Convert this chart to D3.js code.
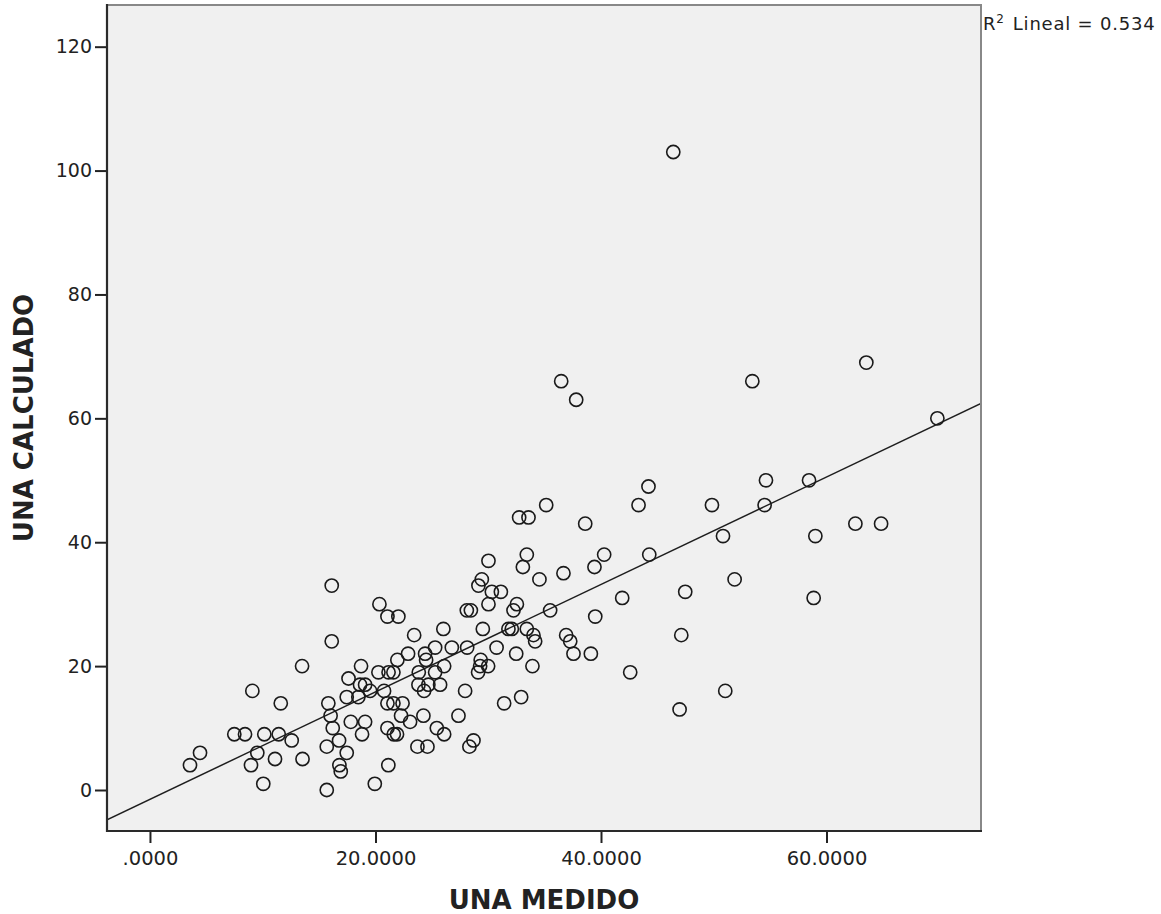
<!DOCTYPE html>
<html>
<head>
<meta charset="utf-8">
<script src="https://cdn.jsdelivr.net/npm/d3@7"></script>
<style>
  html, body { margin: 0; padding: 0; background: #ffffff; }
  svg { display: block; }
  text { font-family: "DejaVu Sans", sans-serif; fill: #222; }
</style>
</head>
<body>
<svg id="chart" width="1161" height="914"></svg>
<script>
// ---- data ----
const unaMedido = [
  3.55, 4.44, 7.48, 8.43, 9.08, 8.96, 9.52, 10.05, 10.14, 11.09, 11.42, 11.60, 12.57, 13.53, 13.49,
  15.68, 15.68, 15.82, 16.02, 16.12, 16.12, 16.21, 16.77, 16.80, 16.92, 17.45, 17.45, 17.61, 17.81,
  18.48, 18.63, 18.72, 18.81, 19.08, 19.08, 19.52, 19.94, 20.26, 20.35, 20.76, 21.06, 21.06, 21.06,
  21.14, 21.16, 21.59, 21.59, 21.62, 21.91, 22.03, 21.94, 22.27, 22.40, 22.89, 23.07, 23.43, 23.72,
  23.84, 23.81, 24.25, 24.31, 24.40, 24.49, 24.61, 24.69, 25.29, 25.29, 25.44, 25.73, 26.02, 26.09,
  26.09, 26.77, 27.36, 27.95, 28.10, 28.13, 28.46, 28.33, 28.69, 29.10, 29.13, 29.28, 29.33, 29.43,
  29.52, 29.99, 30.02, 30.02, 30.32, 30.74, 31.12, 31.41, 31.79, 32.09, 32.24, 32.48, 32.54, 32.74,
  32.92, 33.07, 33.42, 33.42, 33.57, 33.92, 34.01, 34.16, 34.54, 35.14, 35.49, 36.67, 36.47, 36.91,
  37.27, 37.56, 37.80, 38.60, 39.10, 39.42, 39.49, 40.28, 41.88, 42.59, 43.33, 44.21, 44.28, 46.41,
  46.97, 47.12, 47.47, 49.84, 50.82, 51.02, 51.85, 53.42, 54.51, 54.63, 58.45, 58.86, 59.01, 62.56,
  63.53, 64.84, 69.83
];
const unaCalculado = [
  4, 6, 9, 9, 16, 4, 6, 1, 9, 5, 9, 14, 8, 5, 20,
  0, 7, 14, 12, 24, 33, 10, 8, 4, 3, 6, 15, 18, 11,
  15, 17, 20, 9, 11, 17, 16, 1, 19, 30, 16, 28, 14, 10,
  4, 19, 19, 14, 9, 9, 28, 21, 12, 14, 22, 11, 25, 7,
  19, 17, 12, 16, 22, 21, 7, 17, 23, 19, 10, 17, 26, 20,
  9, 23, 12, 16, 29, 23, 29, 7, 8, 19, 33, 20, 21, 34,
  26, 20, 30, 37, 32, 23, 32, 14, 26, 26, 29, 22, 30, 44,
  15, 36, 38, 26, 44, 20, 25, 24, 34, 46, 29, 35, 66, 25,
  24, 22, 63, 43, 22, 36, 28, 38, 31, 19, 46, 49, 38, 103,
  13, 25, 32, 46, 41, 16, 34, 66, 46, 50, 50, 31, 41, 43,
  69, 43, 60
];
const xTickValues = [0, 20, 40, 60];
const xTickLabels = [".0000", "20.0000", "40.0000", "60.0000"];
const yTickValues = [0, 20, 40, 60, 80, 100, 120];
const fitIntercept = -1.5;
const fitSlope = 0.867;
const rSquaredLabel = "0.534";
const xTitle = "UNA MEDIDO";
const yTitle = "UNA CALCULADO";

// ---- layout ----
const plot = { left: 107, right: 981, top: 5, bottom: 831 };
const svg = d3.select("#chart");

const x = d3.scaleLinear().domain([-3.81, 73.70]).range([plot.left, plot.right]);
const y = d3.scaleLinear().domain([-6.62, 126.73]).range([plot.bottom, plot.top]);

// plot background
svg.append("rect")
  .attr("x", plot.left).attr("y", plot.top)
  .attr("width", plot.right - plot.left).attr("height", plot.bottom - plot.top)
  .attr("fill", "#f0f0f0");

// clip
svg.append("clipPath").attr("id", "clip")
  .append("rect")
  .attr("x", plot.left).attr("y", plot.top)
  .attr("width", plot.right - plot.left).attr("height", plot.bottom - plot.top);

// fit line
const xd = x.domain();
svg.append("line")
  .attr("clip-path", "url(#clip)")
  .attr("x1", x(xd[0])).attr("y1", y(fitIntercept + fitSlope * xd[0]))
  .attr("x2", x(xd[1])).attr("y2", y(fitIntercept + fitSlope * xd[1]))
  .attr("stroke", "#1e1e1e").attr("stroke-width", 1.5);

// points
const pts = unaMedido.map((v, i) => ({ x: v, y: unaCalculado[i] }));
svg.append("g").attr("clip-path", "url(#clip)")
  .selectAll("circle").data(pts).join("circle")
  .attr("cx", d => x(d.x)).attr("cy", d => y(d.y))
  .attr("r", 6.6)
  .attr("fill", "none")
  .attr("stroke", "#1a1a1a")
  .attr("stroke-width", 1.6);

// frame: top & right grey, left & bottom dark
svg.append("line").attr("x1", plot.left).attr("x2", plot.right + 1)
  .attr("y1", plot.top).attr("y2", plot.top)
  .attr("stroke", "#888").attr("stroke-width", 2);
svg.append("line").attr("x1", plot.right).attr("x2", plot.right)
  .attr("y1", plot.top).attr("y2", plot.bottom)
  .attr("stroke", "#888").attr("stroke-width", 2);

// axes
const xAxis = d3.axisBottom(x).tickValues(xTickValues)
  .tickFormat((d, i) => xTickLabels[i]).tickSize(12).tickPadding(8);
const gx = svg.append("g").attr("transform", `translate(0,${plot.bottom})`).call(xAxis);
gx.select(".domain").remove();
gx.selectAll(".tick line").attr("stroke", "#222").attr("stroke-width", 2);
gx.selectAll(".tick text").attr("font-size", 19.5).attr("font-family", "DejaVu Sans").attr("fill", "#222");

const yAxis = d3.axisLeft(y).tickValues(yTickValues).tickSize(12).tickPadding(3);
const gy = svg.append("g").attr("transform", `translate(${plot.left},0)`).call(yAxis);
gy.select(".domain").remove();
gy.selectAll(".tick line").attr("stroke", "#222").attr("stroke-width", 2);
gy.selectAll(".tick text").attr("font-size", 19).attr("font-family", "DejaVu Sans").attr("fill", "#222");

svg.append("line").attr("x1", plot.left).attr("x2", plot.left)
  .attr("y1", plot.top - 1).attr("y2", plot.bottom + 1)
  .attr("stroke", "#2a2a2a").attr("stroke-width", 2.2);
svg.append("line").attr("x1", plot.left - 1).attr("x2", plot.right + 1)
  .attr("y1", plot.bottom).attr("y2", plot.bottom)
  .attr("stroke", "#2a2a2a").attr("stroke-width", 2.2);

// titles
svg.append("text")
  .attr("x", (plot.left + plot.right) / 2).attr("y", 909)
  .attr("text-anchor", "middle")
  .attr("font-size", 26).attr("font-weight", "bold")
  .attr("fill", "#1a1a1a")
  .text(xTitle);

svg.append("text")
  .attr("transform", `translate(33,${(plot.top + plot.bottom) / 2}) rotate(-90)`)
  .attr("text-anchor", "middle")
  .attr("font-size", 26).attr("font-weight", "bold")
  .attr("fill", "#1a1a1a")
  .text(yTitle);

// R² annotation
const r2 = svg.append("text").attr("x", plot.right + 2).attr("y", 30)
  .attr("font-size", 18).attr("letter-spacing", 0.8).attr("fill", "#222");
r2.append("tspan").text("R");
r2.append("tspan").attr("font-size", 12).attr("dy", -7).text("2");
r2.append("tspan").attr("dy", 7).attr("dx", 8).text("Lineal = " + rSquaredLabel);
</script>
</body>
</html>
